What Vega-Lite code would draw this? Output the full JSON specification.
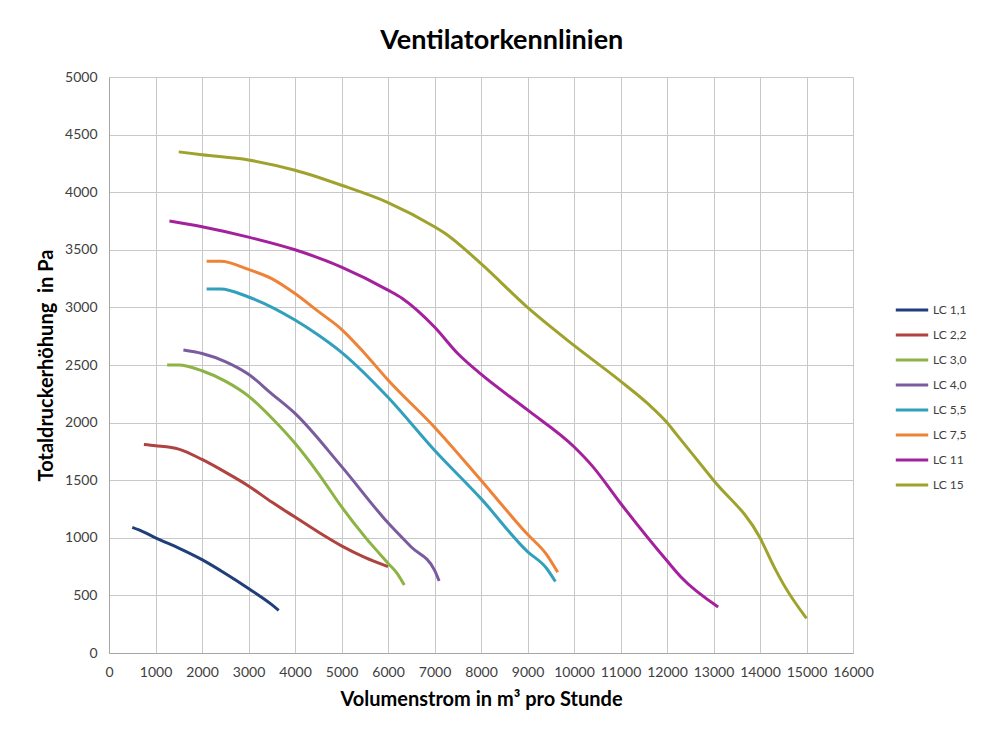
{
  "$schema": "https://vega.github.io/schema/vega-lite/v6.json",
  "width": 744,
  "height": 576,
  "autosize": {"type": "none"},
  "padding": {"left": 109, "top": 77, "right": 134, "bottom": 76},
  "background": "white",
  "title": {
    "text": "Ventilatorkennlinien",
    "font": "Lato",
    "fontSize": 27,
    "fontWeight": "bold",
    "color": "#000000",
    "anchor": "middle",
    "frame": "bounds",
    "offset": 15
  },
  "data": {
    "values": [
      {"series": "LC 1,1", "q": 500, "p": 1090},
      {"series": "LC 1,1", "q": 750, "p": 1050},
      {"series": "LC 1,1", "q": 1000, "p": 1000},
      {"series": "LC 1,1", "q": 1500, "p": 910},
      {"series": "LC 1,1", "q": 2000, "p": 810},
      {"series": "LC 1,1", "q": 2500, "p": 690},
      {"series": "LC 1,1", "q": 3000, "p": 560},
      {"series": "LC 1,1", "q": 3500, "p": 420},
      {"series": "LC 1,1", "q": 3650, "p": 370},

      {"series": "LC 2,2", "q": 750, "p": 1810},
      {"series": "LC 2,2", "q": 1000, "p": 1800},
      {"series": "LC 2,2", "q": 1500, "p": 1770},
      {"series": "LC 2,2", "q": 2000, "p": 1680},
      {"series": "LC 2,2", "q": 2500, "p": 1570},
      {"series": "LC 2,2", "q": 3000, "p": 1450},
      {"series": "LC 2,2", "q": 3500, "p": 1310},
      {"series": "LC 2,2", "q": 4000, "p": 1180},
      {"series": "LC 2,2", "q": 4500, "p": 1050},
      {"series": "LC 2,2", "q": 5000, "p": 930},
      {"series": "LC 2,2", "q": 5500, "p": 830},
      {"series": "LC 2,2", "q": 6000, "p": 750},

      {"series": "LC 3,0", "q": 1250, "p": 2500},
      {"series": "LC 3,0", "q": 1500, "p": 2500},
      {"series": "LC 3,0", "q": 2000, "p": 2450},
      {"series": "LC 3,0", "q": 2500, "p": 2360},
      {"series": "LC 3,0", "q": 3000, "p": 2230},
      {"series": "LC 3,0", "q": 3500, "p": 2040},
      {"series": "LC 3,0", "q": 4000, "p": 1820},
      {"series": "LC 3,0", "q": 4500, "p": 1560},
      {"series": "LC 3,0", "q": 5000, "p": 1270},
      {"series": "LC 3,0", "q": 5500, "p": 1010},
      {"series": "LC 3,0", "q": 6000, "p": 780},
      {"series": "LC 3,0", "q": 6200, "p": 690},
      {"series": "LC 3,0", "q": 6350, "p": 590},

      {"series": "LC 4,0", "q": 1600, "p": 2630},
      {"series": "LC 4,0", "q": 2000, "p": 2600},
      {"series": "LC 4,0", "q": 2500, "p": 2530},
      {"series": "LC 4,0", "q": 3000, "p": 2420},
      {"series": "LC 4,0", "q": 3500, "p": 2250},
      {"series": "LC 4,0", "q": 4000, "p": 2080},
      {"series": "LC 4,0", "q": 5000, "p": 1620},
      {"series": "LC 4,0", "q": 6000, "p": 1130},
      {"series": "LC 4,0", "q": 6500, "p": 920},
      {"series": "LC 4,0", "q": 7000, "p": 720},
      {"series": "LC 4,0", "q": 7100, "p": 625},

      {"series": "LC 5,5", "q": 2100, "p": 3160},
      {"series": "LC 5,5", "q": 2400, "p": 3160},
      {"series": "LC 5,5", "q": 3000, "p": 3090},
      {"series": "LC 5,5", "q": 4000, "p": 2890},
      {"series": "LC 5,5", "q": 4500, "p": 2760},
      {"series": "LC 5,5", "q": 5000, "p": 2610},
      {"series": "LC 5,5", "q": 6000, "p": 2220},
      {"series": "LC 5,5", "q": 7000, "p": 1760},
      {"series": "LC 5,5", "q": 8000, "p": 1340},
      {"series": "LC 5,5", "q": 9000, "p": 880},
      {"series": "LC 5,5", "q": 9400, "p": 740},
      {"series": "LC 5,5", "q": 9600, "p": 620},

      {"series": "LC 7,5", "q": 2100, "p": 3400},
      {"series": "LC 7,5", "q": 2400, "p": 3400},
      {"series": "LC 7,5", "q": 3000, "p": 3330},
      {"series": "LC 7,5", "q": 3500, "p": 3250},
      {"series": "LC 7,5", "q": 4000, "p": 3120},
      {"series": "LC 7,5", "q": 4500, "p": 2965},
      {"series": "LC 7,5", "q": 5000, "p": 2810},
      {"series": "LC 7,5", "q": 5500, "p": 2600},
      {"series": "LC 7,5", "q": 6000, "p": 2370},
      {"series": "LC 7,5", "q": 7000, "p": 1960},
      {"series": "LC 7,5", "q": 8000, "p": 1500},
      {"series": "LC 7,5", "q": 9000, "p": 1030},
      {"series": "LC 7,5", "q": 9400, "p": 860},
      {"series": "LC 7,5", "q": 9650, "p": 700},

      {"series": "LC 11", "q": 1300, "p": 3750},
      {"series": "LC 11", "q": 2000, "p": 3700},
      {"series": "LC 11", "q": 3000, "p": 3610},
      {"series": "LC 11", "q": 4000, "p": 3500},
      {"series": "LC 11", "q": 5000, "p": 3350},
      {"series": "LC 11", "q": 6000, "p": 3150},
      {"series": "LC 11", "q": 6300, "p": 3080},
      {"series": "LC 11", "q": 7000, "p": 2830},
      {"series": "LC 11", "q": 7500, "p": 2600},
      {"series": "LC 11", "q": 8000, "p": 2420},
      {"series": "LC 11", "q": 9000, "p": 2110},
      {"series": "LC 11", "q": 10000, "p": 1790},
      {"series": "LC 11", "q": 10400, "p": 1620},
      {"series": "LC 11", "q": 11000, "p": 1300},
      {"series": "LC 11", "q": 12000, "p": 800},
      {"series": "LC 11", "q": 12300, "p": 660},
      {"series": "LC 11", "q": 13100, "p": 400},

      {"series": "LC 15", "q": 1500, "p": 4350},
      {"series": "LC 15", "q": 2000, "p": 4325},
      {"series": "LC 15", "q": 3000, "p": 4280},
      {"series": "LC 15", "q": 4000, "p": 4190},
      {"series": "LC 15", "q": 5000, "p": 4060},
      {"series": "LC 15", "q": 6000, "p": 3910},
      {"series": "LC 15", "q": 7000, "p": 3700},
      {"series": "LC 15", "q": 7200, "p": 3650},
      {"series": "LC 15", "q": 8000, "p": 3380},
      {"series": "LC 15", "q": 9000, "p": 3000},
      {"series": "LC 15", "q": 10000, "p": 2670},
      {"series": "LC 15", "q": 11000, "p": 2360},
      {"series": "LC 15", "q": 11600, "p": 2160},
      {"series": "LC 15", "q": 12000, "p": 2000},
      {"series": "LC 15", "q": 12200, "p": 1900},
      {"series": "LC 15", "q": 13000, "p": 1500},
      {"series": "LC 15", "q": 14000, "p": 1000},
      {"series": "LC 15", "q": 14300, "p": 750},
      {"series": "LC 15", "q": 14500, "p": 600},
      {"series": "LC 15", "q": 15000, "p": 300}
    ]
  },
  "mark": {"type": "line", "strokeWidth": 3, "interpolate": "monotone"},
  "encoding": {
    "x": {
      "field": "q",
      "type": "quantitative",
      "scale": {"domain": [0, 16000], "nice": false},
      "axis": {
        "title": "Volumenstrom in m³ pro Stunde",
        "values": [0, 1000, 2000, 3000, 4000, 5000, 6000, 7000, 8000, 9000, 10000, 11000, 12000, 13000, 14000, 15000, 16000],
        "format": "d",
        "grid": true,
        "ticks": false,
        "tickSize": 0,
        "labelPadding": 12,
        "titlePadding": 10,
        "labelFlush": false
      }
    },
    "y": {
      "field": "p",
      "type": "quantitative",
      "scale": {"domain": [0, 5000], "nice": false},
      "axis": {
        "title": "Totaldruckerhöhung \u00a0in Pa",
        "values": [0, 500, 1000, 1500, 2000, 2500, 3000, 3500, 4000, 4500, 5000],
        "format": "d",
        "grid": true,
        "ticks": false,
        "tickSize": 0,
        "labelPadding": 12,
        "titlePadding": 8,
        "labelFlush": false
      }
    },
    "color": {
      "field": "series",
      "type": "nominal",
      "sort": ["LC 1,1", "LC 2,2", "LC 3,0", "LC 4,0", "LC 5,5", "LC 7,5", "LC 11", "LC 15"],
      "scale": {
        "domain": ["LC 1,1", "LC 2,2", "LC 3,0", "LC 4,0", "LC 5,5", "LC 7,5", "LC 11", "LC 15"],
        "range": ["#203f7a", "#b0423f", "#8cb343", "#7a5c9e", "#31a0bd", "#ee8236", "#a4219d", "#a0a22e"]
      },
      "legend": {
        "title": null,
        "orient": "none",
        "legendX": 785,
        "legendY": 215,
        "symbolType": "stroke",
        "symbolSize": 1050,
        "symbolStrokeWidth": 3,
        "labelFont": "Lato",
        "labelFontSize": 12,
        "labelColor": "#404040",
        "rowPadding": 1,
        "labelOffset": 3
      }
    }
  },
  "config": {
    "font": "Lato",
    "view": {"stroke": null},
    "axis": {
      "labelFont": "Lato",
      "labelFontSize": 14,
      "labelColor": "#404040",
      "titleFont": "Lato",
      "titleFontSize": 20,
      "titleFontWeight": "bold",
      "titleColor": "#000000",
      "gridColor": "#c8c8c8",
      "gridWidth": 1,
      "gridOpacity": 1,
      "domainColor": "#a6a6a6",
      "domainWidth": 1
    }
  }
}
